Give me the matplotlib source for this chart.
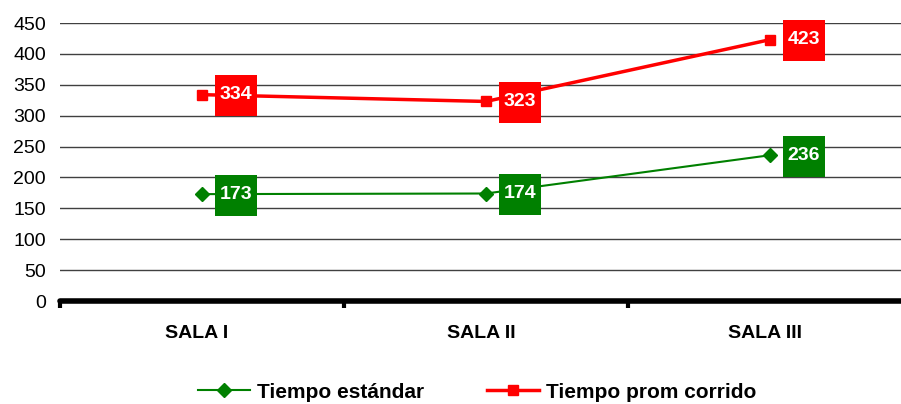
import matplotlib
matplotlib.use("Agg")
import matplotlib.pyplot as plt
from matplotlib.patches import Rectangle
from matplotlib.transforms import Affine2D, ScaledTranslation

plt.rcParams['font.family'] = ['Liberation Sans', 'DejaVu Sans']

categories = ["SALA I", "SALA II", "SALA III"]
tiempo_estandar = [173, 174, 236]
tiempo_prom = [334, 323, 423]
y_ticks = list(range(0, 451, 50))

fig = plt.figure(figsize=(9.01, 4.04), dpi=100)
ax = fig.add_axes([60 / 901, 103 / 404, 852 / 901, 278 / 404])

x = list(range(len(categories)))
ax.plot(x, tiempo_estandar, color="#008000", lw=1.5, marker="D", ms=7,
        label="Tiempo estándar", zorder=3)
ax.plot(x, tiempo_prom, color="#ff0000", lw=2.5, marker="s", ms=7,
        label="Tiempo prom corrido", zorder=3)

# value labels: coloured 42x41 px boxes, 34 px right of each point
for vals, col in [(tiempo_estandar, "#008000"), (tiempo_prom, "#ff0000")]:
    for xi, v in zip(x, vals):
        tr = Affine2D().translate(34, 0) + ScaledTranslation(xi, v, ax.transData)
        ax.add_patch(Rectangle((-21, -21.5), 42, 41, transform=tr, fc=col,
                               ec="none", zorder=4, clip_on=False))
        ax.annotate(str(v), (xi, v), xytext=(34, 0), textcoords="offset pixels",
                    ha="center", va="center", color="white", fontsize=14,
                    fontweight="bold", zorder=5)

ax.set_xlim(-0.5, 2.5)
ax.set_ylim(0, 450)
ax.set_yticks(y_ticks)
ax.tick_params(axis="y", length=0, labelsize=14, pad=10)
ax.yaxis.grid(True, color="#404040", lw=1)
ax.set_axisbelow(True)

ax.set_xticks(x)
ax.set_xticklabels(categories, fontsize=14, fontweight="bold")
ax.set_xticks([-0.5, 0.5, 1.5], minor=True)
ax.tick_params(axis="x", which="major", length=0, pad=17)
ax.tick_params(axis="x", which="minor", length=5, width=3, direction="out")
for lab in ax.get_xticklabels():
    lab.set_transform(lab.get_transform() + Affine2D().translate(-5, 0))

for s in ["top", "right", "left"]:
    ax.spines[s].set_visible(False)
ax.spines["bottom"].set_linewidth(4)
ax.spines["bottom"].set_capstyle("round")

fig.legend(loc="center left", bbox_to_anchor=(198 / 901, 12 / 404), ncol=2,
           frameon=False, borderpad=0, borderaxespad=0,
           prop={"weight": "bold", "size": 15}, handlelength=2.5,
           handletextpad=0.35, columnspacing=3.0)

fig.savefig("out.png", dpi=100)
